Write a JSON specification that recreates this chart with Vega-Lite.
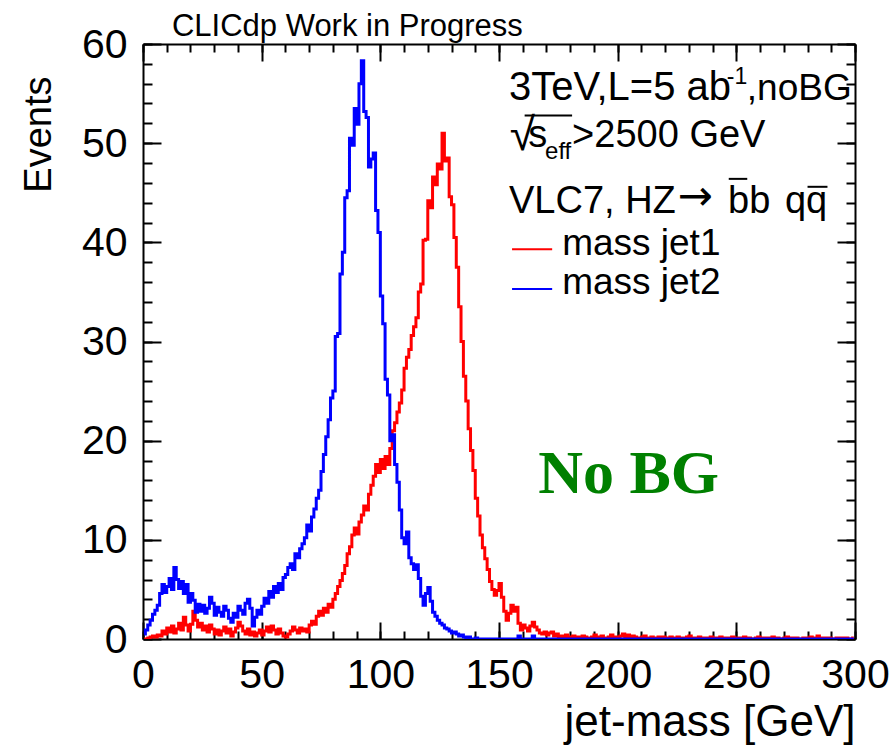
{
"$schema": "https://vega.github.io/schema/vega-lite/v6.json",
"width": 712, "height": 595,
"autosize": {"type": "none"},
"padding": {"left": 143, "top": 44, "right": 41, "bottom": 110},
"background": "white",
"config": {
  "view": {"stroke": null},
  "font": "Liberation Sans",
  "axis": {"tickColor": "black", "domainColor": "black", "labelColor": "black", "titleColor": "black", "grid": false, "labelFont": "Liberation Sans", "titleFont": "Liberation Sans", "tickWidth": 2, "domainWidth": 2, "titleFontWeight": "normal", "labelFlush": false, "labelOverlap": false}
},
"resolve": {"axis": {"x": "independent", "y": "independent"}},
"datasets": {"h": [
{"m":0.5,"j1":0,"j2":0.5},{"m":1.5,"j1":0,"j2":0.9},{"m":2.5,"j1":0.1,"j2":1.4},{"m":3.5,"j1":0.2,"j2":1.9},{"m":4.5,"j1":0.3,"j2":2.5},
{"m":5.5,"j1":0.2,"j2":2.9},{"m":6.5,"j1":0.4,"j2":3.4},{"m":7.5,"j1":0.3,"j2":4.6},{"m":8.5,"j1":0.8,"j2":5.5},{"m":9.5,"j1":0.5,"j2":4.7},
{"m":10.5,"j1":1.1,"j2":5.3},{"m":11.5,"j1":0.7,"j2":6.1},{"m":12.5,"j1":1.3,"j2":5.0},{"m":13.5,"j1":0.6,"j2":7.2},{"m":14.5,"j1":1.0,"j2":6.0},
{"m":15.5,"j1":1.6,"j2":5.1},{"m":16.5,"j1":0.9,"j2":5.8},{"m":17.5,"j1":2.2,"j2":4.6},{"m":18.5,"j1":1.4,"j2":5.5},{"m":19.5,"j1":0.8,"j2":3.7},
{"m":20.5,"j1":1.5,"j2":4.6},{"m":21.5,"j1":2.8,"j2":3.9},{"m":22.5,"j1":1.9,"j2":2.7},{"m":23.5,"j1":1.2,"j2":3.5},{"m":24.5,"j1":1.6,"j2":2.8},
{"m":25.5,"j1":0.9,"j2":3.4},{"m":26.5,"j1":1.3,"j2":2.6},{"m":27.5,"j1":0.7,"j2":3.1},{"m":28.5,"j1":1.4,"j2":4.2},{"m":29.5,"j1":1.0,"j2":3.6},
{"m":30.5,"j1":0.5,"j2":2.4},{"m":31.5,"j1":0.9,"j2":3.2},{"m":32.5,"j1":0.4,"j2":2.7},{"m":33.5,"j1":0.8,"j2":2.3},{"m":34.5,"j1":1.2,"j2":3.3},
{"m":35.5,"j1":0.6,"j2":2.9},{"m":36.5,"j1":1.0,"j2":2.1},{"m":37.5,"j1":0.3,"j2":1.7},{"m":38.5,"j1":0.7,"j2":2.6},{"m":39.5,"j1":1.1,"j2":2.2},
{"m":40.5,"j1":1.7,"j2":3.3},{"m":41.5,"j1":1.3,"j2":2.9},{"m":42.5,"j1":0.8,"j2":2.5},{"m":43.5,"j1":0.5,"j2":3.6},{"m":44.5,"j1":1.0,"j2":4.0},
{"m":45.5,"j1":0.4,"j2":3.1},{"m":46.5,"j1":0.7,"j2":1.3},{"m":47.5,"j1":0.3,"j2":2.2},{"m":48.5,"j1":0.6,"j2":2.9},{"m":49.5,"j1":0.9,"j2":2.5},
{"m":50.5,"j1":0.4,"j2":3.3},{"m":51.5,"j1":0.8,"j2":4.1},{"m":52.5,"j1":1.2,"j2":3.6},{"m":53.5,"j1":0.7,"j2":4.8},{"m":54.5,"j1":1.3,"j2":4.2},
{"m":55.5,"j1":0.9,"j2":5.3},{"m":56.5,"j1":0.5,"j2":4.7},{"m":57.5,"j1":1.0,"j2":5.6},{"m":58.5,"j1":0.6,"j2":5.0},{"m":59.5,"j1":0.3,"j2":6.2},
{"m":60.5,"j1":0.2,"j2":6.5},{"m":61.5,"j1":0.5,"j2":7.2},{"m":62.5,"j1":0.8,"j2":7.6},{"m":63.5,"j1":1.2,"j2":7.0},{"m":64.5,"j1":0.9,"j2":8.6},
{"m":65.5,"j1":0.6,"j2":8.2},{"m":66.5,"j1":1.1,"j2":9.1},{"m":67.5,"j1":0.8,"j2":9.6},{"m":68.5,"j1":1.0,"j2":10.2},{"m":69.5,"j1":0.7,"j2":11.5},
{"m":70.5,"j1":1.4,"j2":10.9},{"m":71.5,"j1":1.8,"j2":12.3},{"m":72.5,"j1":1.5,"j2":13.1},{"m":73.5,"j1":2.3,"j2":14.2},{"m":74.5,"j1":2.8,"j2":15.0},
{"m":75.5,"j1":2.4,"j2":16.9},{"m":76.5,"j1":3.1,"j2":18.6},{"m":77.5,"j1":2.7,"j2":20.4},{"m":78.5,"j1":3.5,"j2":22.1},{"m":79.5,"j1":3.2,"j2":24.3},
{"m":80.5,"j1":4.0,"j2":25.0},{"m":81.5,"j1":4.6,"j2":30.5},{"m":82.5,"j1":5.3,"j2":30.8},{"m":83.5,"j1":5.9,"j2":36.8},{"m":84.5,"j1":6.6,"j2":39.0},
{"m":85.5,"j1":7.4,"j2":44.5},{"m":86.5,"j1":8.6,"j2":45.2},{"m":87.5,"j1":9.3,"j2":50.5},{"m":88.5,"j1":10.5,"j2":49.8},{"m":89.5,"j1":11.2,"j2":53.5},
{"m":90.5,"j1":10.6,"j2":51.9},{"m":91.5,"j1":11.8,"j2":56.0},{"m":92.5,"j1":12.5,"j2":58.3},{"m":93.5,"j1":13.4,"j2":53.2},{"m":94.5,"j1":13.0,"j2":52.6},
{"m":95.5,"j1":14.6,"j2":47.6},{"m":96.5,"j1":15.5,"j2":48.4},{"m":97.5,"j1":16.4,"j2":49.0},{"m":98.5,"j1":17.6,"j2":43.2},{"m":99.5,"j1":16.8,"j2":41.0},
{"m":100.5,"j1":18.1,"j2":34.6},{"m":101.5,"j1":17.2,"j2":31.8},{"m":102.5,"j1":18.4,"j2":26.2},{"m":103.5,"j1":17.6,"j2":24.6},{"m":104.5,"j1":19.2,"j2":20.0},
{"m":105.5,"j1":21.0,"j2":20.6},{"m":106.5,"j1":21.8,"j2":17.6},{"m":107.5,"j1":22.9,"j2":15.8},{"m":108.5,"j1":23.8,"j2":13.0},{"m":109.5,"j1":25.1,"j2":10.2},
{"m":110.5,"j1":27.3,"j2":9.6},{"m":111.5,"j1":28.4,"j2":10.8},{"m":112.5,"j1":29.2,"j2":8.2},{"m":113.5,"j1":30.6,"j2":7.6},{"m":114.5,"j1":31.5,"j2":7.0},
{"m":115.5,"j1":32.4,"j2":7.5},{"m":116.5,"j1":35.0,"j2":6.1},{"m":117.5,"j1":35.8,"j2":4.3},{"m":118.5,"j1":40.2,"j2":3.4},{"m":119.5,"j1":40.3,"j2":4.6},
{"m":120.5,"j1":44.2,"j2":5.2},{"m":121.5,"j1":43.5,"j2":3.8},{"m":122.5,"j1":46.6,"j2":2.7},{"m":123.5,"j1":45.8,"j2":2.3},{"m":124.5,"j1":47.9,"j2":1.9},
{"m":125.5,"j1":47.4,"j2":1.6},{"m":126.5,"j1":51.0,"j2":1.4},{"m":127.5,"j1":48.2,"j2":1.1},{"m":128.5,"j1":48.5,"j2":1.0},{"m":129.5,"j1":44.6,"j2":0.8},
{"m":130.5,"j1":43.8,"j2":0.6},{"m":131.5,"j1":40.5,"j2":0.7},{"m":132.5,"j1":37.5,"j2":0.5},{"m":133.5,"j1":33.5,"j2":0.3},{"m":134.5,"j1":30.0,"j2":0.4},
{"m":135.5,"j1":26.5,"j2":0.2},{"m":136.5,"j1":24.0,"j2":0.1},{"m":137.5,"j1":21.2,"j2":0.2},{"m":138.5,"j1":19.0,"j2":0},{"m":139.5,"j1":17.0,"j2":0},
{"m":140.5,"j1":14.2,"j2":0.1},{"m":141.5,"j1":12.4,"j2":0},{"m":142.5,"j1":10.5,"j2":0},{"m":143.5,"j1":9.2,"j2":0},{"m":144.5,"j1":8.1,"j2":0},
{"m":145.5,"j1":7.0,"j2":0},{"m":146.5,"j1":5.8,"j2":0},{"m":147.5,"j1":5.0,"j2":0},{"m":148.5,"j1":4.4,"j2":0},{"m":149.5,"j1":4.9,"j2":0},
{"m":150.5,"j1":5.6,"j2":0},{"m":151.5,"j1":4.2,"j2":0},{"m":152.5,"j1":2.8,"j2":0},{"m":153.5,"j1":1.9,"j2":0},{"m":154.5,"j1":2.6,"j2":0},
{"m":155.5,"j1":3.4,"j2":0},{"m":156.5,"j1":2.8,"j2":0},{"m":157.5,"j1":3.2,"j2":0},{"m":158.5,"j1":1.6,"j2":0.3},{"m":159.5,"j1":0.9,"j2":0},
{"m":160.5,"j1":1.4,"j2":0},{"m":161.5,"j1":1.1,"j2":0},{"m":162.5,"j1":0.8,"j2":0},{"m":163.5,"j1":1.3,"j2":0},{"m":164.5,"j1":1.7,"j2":0.3},
{"m":165.5,"j1":1.2,"j2":0},{"m":166.5,"j1":0.9,"j2":0},{"m":167.5,"j1":0.6,"j2":0},{"m":168.5,"j1":0.5,"j2":0},{"m":169.5,"j1":0.7,"j2":0},
{"m":170.5,"j1":0.4,"j2":0},{"m":171.5,"j1":0.6,"j2":0},{"m":172.5,"j1":0.7,"j2":0},{"m":173.5,"j1":0.3,"j2":0},{"m":174.5,"j1":0.5,"j2":0},
{"m":175.5,"j1":0.2,"j2":0},{"m":176.5,"j1":0.3,"j2":0},{"m":177.5,"j1":0.1,"j2":0},{"m":178.5,"j1":0.4,"j2":0},{"m":179.5,"j1":0.2,"j2":0},
{"m":180.5,"j1":0.1,"j2":0},{"m":181.5,"j1":0.3,"j2":0},{"m":182.5,"j1":0,"j2":0},{"m":183.5,"j1":0.2,"j2":0},{"m":184.5,"j1":0.1,"j2":0},
{"m":185.5,"j1":0.3,"j2":0},{"m":186.5,"j1":0.2,"j2":0},{"m":187.5,"j1":0,"j2":0},{"m":188.5,"j1":0.1,"j2":0},{"m":189.5,"j1":0.2,"j2":0},
{"m":190.5,"j1":0.4,"j2":0},{"m":191.5,"j1":0.1,"j2":0},{"m":192.5,"j1":0.2,"j2":0},{"m":193.5,"j1":0.3,"j2":0},{"m":194.5,"j1":0.1,"j2":0},
{"m":195.5,"j1":0,"j2":0},{"m":196.5,"j1":0.2,"j2":0},{"m":197.5,"j1":0.4,"j2":0},{"m":198.5,"j1":0.1,"j2":0},{"m":199.5,"j1":0.2,"j2":0},
{"m":200.5,"j1":0.1,"j2":0},{"m":201.5,"j1":0.3,"j2":0},{"m":202.5,"j1":0.5,"j2":0},{"m":203.5,"j1":0.2,"j2":0},{"m":204.5,"j1":0.4,"j2":0},
{"m":205.5,"j1":0.1,"j2":0},{"m":206.5,"j1":0.3,"j2":0},{"m":207.5,"j1":0.2,"j2":0},{"m":208.5,"j1":0,"j2":0},{"m":209.5,"j1":0.1,"j2":0},
{"m":210.5,"j1":0.2,"j2":0},{"m":211.5,"j1":0.3,"j2":0},{"m":212.5,"j1":0.1,"j2":0},{"m":213.5,"j1":0,"j2":0},{"m":214.5,"j1":0.2,"j2":0},
{"m":215.5,"j1":0.1,"j2":0},{"m":216.5,"j1":0,"j2":0},{"m":217.5,"j1":0.2,"j2":0},{"m":218.5,"j1":0.1,"j2":0},{"m":219.5,"j1":0.2,"j2":0},
{"m":220.5,"j1":0,"j2":0},{"m":221.5,"j1":0.1,"j2":0},{"m":222.5,"j1":0.2,"j2":0},{"m":223.5,"j1":0,"j2":0},{"m":224.5,"j1":0.1,"j2":0},
{"m":225.5,"j1":0.2,"j2":0},{"m":226.5,"j1":0.1,"j2":0},{"m":227.5,"j1":0,"j2":0},{"m":228.5,"j1":0.1,"j2":0},{"m":229.5,"j1":0.2,"j2":0},
{"m":230.5,"j1":0.3,"j2":0},{"m":231.5,"j1":0.1,"j2":0},{"m":232.5,"j1":0,"j2":0},{"m":233.5,"j1":0.1,"j2":0},{"m":234.5,"j1":0.2,"j2":0},
{"m":235.5,"j1":0.1,"j2":0},{"m":236.5,"j1":0,"j2":0},{"m":237.5,"j1":0.1,"j2":0},{"m":238.5,"j1":0,"j2":0},{"m":239.5,"j1":0.2,"j2":0},
{"m":240.5,"j1":0.1,"j2":0},{"m":241.5,"j1":0,"j2":0},{"m":242.5,"j1":0.1,"j2":0},{"m":243.5,"j1":0.2,"j2":0},{"m":244.5,"j1":0,"j2":0},
{"m":245.5,"j1":0.1,"j2":0},{"m":246.5,"j1":0,"j2":0},{"m":247.5,"j1":0.1,"j2":0},{"m":248.5,"j1":0.2,"j2":0},{"m":249.5,"j1":0,"j2":0},
{"m":250.5,"j1":0.1,"j2":0},{"m":251.5,"j1":0,"j2":0},{"m":252.5,"j1":0.1,"j2":0},{"m":253.5,"j1":0.2,"j2":0},{"m":254.5,"j1":0,"j2":0},
{"m":255.5,"j1":0.1,"j2":0},{"m":256.5,"j1":0,"j2":0},{"m":257.5,"j1":0,"j2":0},{"m":258.5,"j1":0.1,"j2":0},{"m":259.5,"j1":0.2,"j2":0},
{"m":260.5,"j1":0,"j2":0},{"m":261.5,"j1":0.1,"j2":0},{"m":262.5,"j1":0,"j2":0},{"m":263.5,"j1":0.1,"j2":0},{"m":264.5,"j1":0,"j2":0},
{"m":265.5,"j1":0.2,"j2":0},{"m":266.5,"j1":0,"j2":0},{"m":267.5,"j1":0.1,"j2":0},{"m":268.5,"j1":0,"j2":0},{"m":269.5,"j1":0,"j2":0},
{"m":270.5,"j1":0.1,"j2":0},{"m":271.5,"j1":0.2,"j2":0},{"m":272.5,"j1":0,"j2":0},{"m":273.5,"j1":0.1,"j2":0},{"m":274.5,"j1":0,"j2":0},
{"m":275.5,"j1":0.1,"j2":0},{"m":276.5,"j1":0,"j2":0},{"m":277.5,"j1":0,"j2":0},{"m":278.5,"j1":0.1,"j2":0},{"m":279.5,"j1":0,"j2":0},
{"m":280.5,"j1":0.1,"j2":0},{"m":281.5,"j1":0.2,"j2":0},{"m":282.5,"j1":0,"j2":0},{"m":283.5,"j1":0.1,"j2":0},{"m":284.5,"j1":0.3,"j2":0},
{"m":285.5,"j1":0.1,"j2":0},{"m":286.5,"j1":0,"j2":0},{"m":287.5,"j1":0.1,"j2":0},{"m":288.5,"j1":0,"j2":0},{"m":289.5,"j1":0.1,"j2":0},
{"m":290.5,"j1":0,"j2":0},{"m":291.5,"j1":0,"j2":0},{"m":292.5,"j1":0.1,"j2":0},{"m":293.5,"j1":0,"j2":0},{"m":294.5,"j1":0.1,"j2":0},
{"m":295.5,"j1":0,"j2":0},{"m":296.5,"j1":0.1,"j2":0},{"m":297.5,"j1":0,"j2":0},{"m":298.5,"j1":0,"j2":0},{"m":299.5,"j1":0.1,"j2":0}
]},
"layer": [
{
  "data": {"name": "h"},
  "mark": {"type": "line", "interpolate": "step", "color": "#ff0000", "strokeWidth": 3, "clip": true},
  "encoding": {
    "x": {"field": "m", "type": "quantitative", "scale": {"domain": [0, 300], "nice": false, "zero": false},
      "axis": {"orient": "bottom", "values": [0,50,100,150,200,250,300], "tickSize": -17, "labelFontSize": 41, "labelPadding": 33, "domain": true,
        "title": "jet-mass [GeV]", "titleFontSize": 44, "titleAlign": "right", "titleAnchor": "end", "titleX": 712, "titleY": 96, "titleBaseline": "alphabetic", "titleAngle": 0}},
    "y": {"field": "j1", "type": "quantitative", "scale": {"domain": [0, 60], "nice": false, "zero": false},
      "axis": {"orient": "left", "values": [0,10,20,30,40,50,60], "tickSize": -18, "labelFontSize": 41, "labelPadding": 34, "labelBaseline": "middle", "labelOffset": 1, "domain": true,
        "title": "Events", "titleFontSize": 38, "titleAngle": 270, "titleAlign": "right", "titleBaseline": "alphabetic", "titleX": -93, "titleY": 32}}
  }
},
{
  "data": {"name": "h"},
  "mark": {"type": "line", "interpolate": "step", "color": "#0000ff", "strokeWidth": 3, "clip": true},
  "encoding": {
    "x": {"field": "m", "type": "quantitative", "axis": null},
    "y": {"field": "j2", "type": "quantitative", "axis": null}
  }
},
{
  "data": {"values": [{}]},
  "mark": {"type": "point", "opacity": 0},
  "encoding": {
    "x": {"datum": 0, "type": "quantitative", "axis": {"orient": "bottom", "values": [0,10,20,30,40,50,60,70,80,90,100,110,120,130,140,150,160,170,180,190,200,210,220,230,240,250,260,270,280,290,300], "tickSize": -8, "labels": false, "domain": false, "title": null}},
    "y": {"datum": 0, "type": "quantitative", "axis": {"orient": "left", "values": [0,2,4,6,8,10,12,14,16,18,20,22,24,26,28,30,32,34,36,38,40,42,44,46,48,50,52,54,56,58,60], "tickSize": -9, "labels": false, "domain": false, "title": null}}
  }
},
{
  "data": {"values": [{}]},
  "mark": {"type": "point", "opacity": 0},
  "encoding": {
    "x": {"datum": 0, "type": "quantitative", "axis": {"orient": "top", "values": [0,50,100,150,200,250,300], "tickSize": -17, "labels": false, "domain": true, "title": null}},
    "y": {"datum": 0, "type": "quantitative", "axis": {"orient": "right", "values": [0,10,20,30,40,50,60], "tickSize": -18, "labels": false, "domain": true, "title": null}}
  }
},
{
  "data": {"values": [{}]},
  "mark": {"type": "point", "opacity": 0},
  "encoding": {
    "x": {"datum": 0, "type": "quantitative", "axis": {"orient": "top", "values": [0,10,20,30,40,50,60,70,80,90,100,110,120,130,140,150,160,170,180,190,200,210,220,230,240,250,260,270,280,290,300], "tickSize": -8, "labels": false, "domain": false, "title": null}},
    "y": {"datum": 0, "type": "quantitative", "axis": {"orient": "right", "values": [0,2,4,6,8,10,12,14,16,18,20,22,24,26,28,30,32,34,36,38,40,42,44,46,48,50,52,54,56,58,60], "tickSize": -9, "labels": false, "domain": false, "title": null}}
  }
},
{"data": {"values": [{}]}, "mark": {"type": "text", "text": "CLICdp Work in Progress", "font": "Liberation Sans", "fontSize": 31, "align": "left", "baseline": "alphabetic", "color": "black"},
 "encoding": {"x": {"datum": 12.2, "type": "quantitative", "axis": null}, "y": {"datum": 60.8, "type": "quantitative", "axis": null}}},
{"data": {"values": [{}]}, "mark": {"type": "text", "text": "3TeV,L=5 ab", "font": "Liberation Sans", "fontSize": 40, "align": "left", "baseline": "alphabetic", "color": "black"},
 "encoding": {"x": {"datum": 154.2, "type": "quantitative", "axis": null}, "y": {"datum": 54.4, "type": "quantitative", "axis": null}}},
{"data": {"values": [{}]}, "mark": {"type": "text", "text": "-1", "font": "Liberation Sans", "fontSize": 23, "align": "left", "baseline": "alphabetic", "color": "black"},
 "encoding": {"x": {"datum": 246.0, "type": "quantitative", "axis": null}, "y": {"datum": 56.0, "type": "quantitative", "axis": null}}},
{"data": {"values": [{}]}, "mark": {"type": "text", "text": ",noBG", "font": "Liberation Sans", "fontSize": 37, "align": "left", "baseline": "alphabetic", "color": "black"},
 "encoding": {"x": {"datum": 254.4, "type": "quantitative", "axis": null}, "y": {"datum": 54.4, "type": "quantitative", "axis": null}}},
{"data": {"values": [{}]}, "mark": {"type": "text", "text": "√", "font": "Liberation Sans", "fontSize": 46, "align": "left", "baseline": "alphabetic", "color": "black"},
 "encoding": {"x": {"datum": 154.5, "type": "quantitative", "axis": null}, "y": {"datum": 49.3, "type": "quantitative", "axis": null}}},
{"data": {"values": [{}]}, "mark": {"type": "text", "text": "s", "font": "Liberation Sans", "fontSize": 38, "align": "left", "baseline": "alphabetic", "color": "black"},
 "encoding": {"x": {"datum": 162.3, "type": "quantitative", "axis": null}, "y": {"datum": 49.6, "type": "quantitative", "axis": null}}},
{"data": {"values": [{}]}, "mark": {"type": "text", "text": "eff", "font": "Liberation Sans", "fontSize": 24, "align": "left", "baseline": "alphabetic", "color": "black"},
 "encoding": {"x": {"datum": 169.4, "type": "quantitative", "axis": null}, "y": {"datum": 48.4, "type": "quantitative", "axis": null}}},
{"data": {"values": [{}]}, "mark": {"type": "text", "text": ">2500 GeV", "font": "Liberation Sans", "fontSize": 38, "align": "left", "baseline": "alphabetic", "color": "black"},
 "encoding": {"x": {"datum": 180.8, "type": "quantitative", "axis": null}, "y": {"datum": 49.6, "type": "quantitative", "axis": null}}},
{"data": {"values": [{}]}, "mark": {"type": "rule", "color": "black", "strokeWidth": 2},
 "encoding": {"x": {"datum": 160.8, "type": "quantitative", "axis": null}, "x2": {"datum": 180.8}, "y": {"datum": 52.8, "type": "quantitative", "axis": null}}},
{"data": {"values": [{}]}, "mark": {"type": "text", "text": "VLC7, HZ", "font": "Liberation Sans", "fontSize": 38, "align": "left", "baseline": "alphabetic", "color": "black"},
 "encoding": {"x": {"datum": 154.2, "type": "quantitative", "axis": null}, "y": {"datum": 43.0, "type": "quantitative", "axis": null}}},
{"data": {"values": [{}]}, "mark": {"type": "text", "text": "→", "font": "DejaVu Sans", "fontSize": 42, "align": "left", "baseline": "alphabetic", "color": "black"},
 "encoding": {"x": {"datum": 225.3, "type": "quantitative", "axis": null}, "y": {"datum": 43.3, "type": "quantitative", "axis": null}}},
{"data": {"values": [{}]}, "mark": {"type": "text", "text": "bb", "font": "Liberation Sans", "fontSize": 38, "align": "left", "baseline": "alphabetic", "color": "black"},
 "encoding": {"x": {"datum": 246.5, "type": "quantitative", "axis": null}, "y": {"datum": 43.0, "type": "quantitative", "axis": null}}},
{"data": {"values": [{}]}, "mark": {"type": "text", "text": "qq", "font": "Liberation Sans", "fontSize": 38, "align": "left", "baseline": "alphabetic", "color": "black"},
 "encoding": {"x": {"datum": 270.5, "type": "quantitative", "axis": null}, "y": {"datum": 43.0, "type": "quantitative", "axis": null}}},
{"data": {"values": [{}]}, "mark": {"type": "rule", "color": "black", "strokeWidth": 2},
 "encoding": {"x": {"datum": 246.8, "type": "quantitative", "axis": null}, "x2": {"datum": 254.6}, "y": {"datum": 46.4, "type": "quantitative", "axis": null}}},
{"data": {"values": [{}]}, "mark": {"type": "rule", "color": "black", "strokeWidth": 2},
 "encoding": {"x": {"datum": 280.0, "type": "quantitative", "axis": null}, "x2": {"datum": 288.4}, "y": {"datum": 45.6, "type": "quantitative", "axis": null}}},
{"data": {"values": [{}]}, "mark": {"type": "rule", "color": "#ff0000", "strokeWidth": 2},
 "encoding": {"x": {"datum": 155.5, "type": "quantitative", "axis": null}, "x2": {"datum": 172.4}, "y": {"datum": 39.3, "type": "quantitative", "axis": null}}},
{"data": {"values": [{}]}, "mark": {"type": "text", "text": "mass jet1", "font": "Liberation Sans", "fontSize": 37, "align": "left", "baseline": "alphabetic", "color": "black"},
 "encoding": {"x": {"datum": 176.6, "type": "quantitative", "axis": null}, "y": {"datum": 38.7, "type": "quantitative", "axis": null}}},
{"data": {"values": [{}]}, "mark": {"type": "rule", "color": "#0000ff", "strokeWidth": 2},
 "encoding": {"x": {"datum": 155.5, "type": "quantitative", "axis": null}, "x2": {"datum": 172.4}, "y": {"datum": 35.3, "type": "quantitative", "axis": null}}},
{"data": {"values": [{}]}, "mark": {"type": "text", "text": "mass jet2", "font": "Liberation Sans", "fontSize": 37, "align": "left", "baseline": "alphabetic", "color": "black"},
 "encoding": {"x": {"datum": 176.6, "type": "quantitative", "axis": null}, "y": {"datum": 34.8, "type": "quantitative", "axis": null}}},
{"data": {"values": [{}]}, "mark": {"type": "text", "text": "No BG", "font": "Liberation Serif", "fontWeight": "bold", "fontSize": 62, "align": "left", "baseline": "alphabetic", "color": "#008000"},
 "encoding": {"x": {"datum": 166.5, "type": "quantitative", "axis": null}, "y": {"datum": 14.75, "type": "quantitative", "axis": null}}}
]
}
